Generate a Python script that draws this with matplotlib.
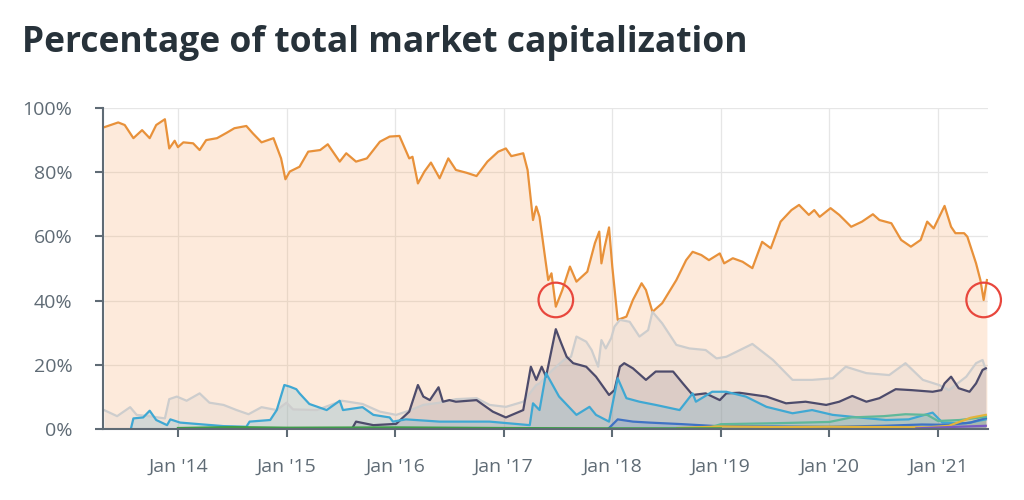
import matplotlib
matplotlib.use("Agg")
import matplotlib.pyplot as plt
import numpy as np

plt.rcParams['font.family'] = ['Open Sans', 'DejaVu Sans']

# x values are decimal years, y values are % of total market cap
btc_x = [2013.32, 2013.45, 2013.51, 2013.59, 2013.67, 2013.74, 2013.80, 2013.88, 2013.92, 2013.97,
         2014.00, 2014.05, 2014.14, 2014.20, 2014.26, 2014.36, 2014.45, 2014.52, 2014.63, 2014.69,
         2014.77, 2014.88, 2014.95, 2014.99, 2015.03, 2015.12, 2015.20, 2015.31, 2015.38, 2015.49,
         2015.55, 2015.64, 2015.74, 2015.86, 2015.95, 2016.04, 2016.13, 2016.16, 2016.21, 2016.27,
         2016.33, 2016.41, 2016.49, 2016.56, 2016.66, 2016.75, 2016.85, 2016.95, 2017.02, 2017.07,
         2017.18, 2017.22, 2017.27, 2017.30, 2017.33, 2017.38, 2017.41, 2017.44, 2017.48, 2017.54,
         2017.61, 2017.67, 2017.77, 2017.84, 2017.88, 2017.90, 2017.93, 2017.97, 2018.00, 2018.05,
         2018.13, 2018.19, 2018.27, 2018.31, 2018.37, 2018.46, 2018.59, 2018.68, 2018.74, 2018.82,
         2018.89, 2018.99, 2019.03, 2019.11, 2019.20, 2019.29, 2019.38, 2019.46, 2019.55, 2019.65,
         2019.72, 2019.81, 2019.86, 2019.91, 2020.01, 2020.09, 2020.20, 2020.30, 2020.40, 2020.46,
         2020.57, 2020.66, 2020.75, 2020.84, 2020.90, 2020.96, 2021.06, 2021.12, 2021.16, 2021.24,
         2021.27, 2021.35, 2021.39, 2021.42, 2021.45]
btc_y = [94.0, 95.5, 94.7, 90.6, 93.1, 90.6, 94.7, 96.5, 87.4, 89.8,
         87.8, 89.3, 89.0, 86.9, 90.0, 90.6, 92.3, 93.7, 94.4, 92.1,
         89.3, 90.6, 84.3, 77.8, 80.2, 81.7, 86.4, 86.9, 88.7, 83.3,
         85.9, 83.3, 84.3, 89.5, 91.1, 91.3, 84.3, 84.8, 76.5, 80.2,
         83.0, 78.1, 84.3, 80.7, 79.8, 78.8, 83.3, 86.4, 87.4, 85.0,
         85.9, 80.7, 65.1, 69.3, 66.1, 53.7, 46.4, 48.5, 38.1, 43.3,
         50.6, 45.9, 49.0, 57.9, 61.5, 51.6, 56.8, 62.8, 50.6, 34.0,
         35.0, 40.2, 45.4, 43.3, 36.5, 39.2, 46.4, 52.6, 55.2, 54.2,
         52.6, 54.7, 51.6, 53.2, 52.1, 50.1, 58.3, 56.3, 64.6, 68.2,
         69.8, 66.7, 68.2, 66.1, 68.8, 66.7, 63.0, 64.6, 66.9, 65.1,
         64.1, 58.9, 56.8, 58.9, 64.6, 62.5, 69.5, 63.0, 61.0, 61.0,
         59.9, 51.6, 46.4, 40.2, 46.4]

others_x = [2013.32, 2013.44, 2013.56, 2013.62, 2013.73, 2013.88, 2013.92, 2013.99, 2014.08, 2014.20,
            2014.29, 2014.42, 2014.54, 2014.65, 2014.77, 2014.91, 2015.00, 2015.06, 2015.28, 2015.51,
            2015.70, 2015.86, 2016.01, 2016.13, 2016.26, 2016.41, 2016.56, 2016.75, 2016.87, 2017.02,
            2017.18, 2017.30, 2017.33, 2017.45, 2017.56, 2017.62, 2017.67, 2017.76, 2017.81, 2017.87,
            2017.90, 2017.94, 2017.99, 2018.02, 2018.07, 2018.16, 2018.25, 2018.33, 2018.37, 2018.46,
            2018.59, 2018.71, 2018.86, 2018.96, 2019.05, 2019.29, 2019.48, 2019.66, 2019.84, 2020.03,
            2020.15, 2020.34, 2020.55, 2020.70, 2020.86, 2021.01, 2021.10, 2021.26, 2021.35, 2021.41,
            2021.44]
others_y = [5.9, 4.0, 6.8, 4.4, 4.0, 3.3, 9.3, 10.1, 8.8, 11.1,
            8.2, 7.5, 5.9, 4.6, 6.8, 5.9, 8.2, 6.1, 5.9, 8.8,
            7.8, 5.4, 4.4, 5.7, 7.5, 8.2, 9.3, 9.6, 7.5, 6.9,
            8.5, 13.7, 14.2, 18.4, 21.7, 22.5, 28.8, 27.2, 24.6, 19.4,
            27.7, 25.1, 28.3, 31.9, 34.0, 33.4, 28.8, 30.8, 36.5, 32.9,
            26.2, 25.1, 24.6, 22.0, 22.5, 26.5, 21.5, 15.3, 15.3, 15.8,
            19.4, 17.4, 16.8, 20.5, 15.3, 13.7, 12.1, 16.3, 20.5, 21.5,
            18.4]

eth_x = [2015.61, 2015.64, 2015.80, 2016.01, 2016.13, 2016.21, 2016.26, 2016.32, 2016.40, 2016.44,
         2016.50, 2016.56, 2016.75, 2016.90, 2017.02, 2017.18, 2017.25, 2017.30, 2017.35, 2017.39,
         2017.48, 2017.53, 2017.58, 2017.64, 2017.76, 2017.85, 2017.97, 2018.02, 2018.07, 2018.11,
         2018.19, 2018.31, 2018.40, 2018.56, 2018.65, 2018.74, 2018.86, 2018.99, 2019.05, 2019.17,
         2019.42, 2019.60, 2019.78, 2019.97, 2020.09, 2020.21, 2020.34, 2020.46, 2020.61, 2020.76,
         2020.95, 2021.03, 2021.06, 2021.12, 2021.19, 2021.29, 2021.35, 2021.41, 2021.44]
eth_y = [0.5, 2.3, 1.2, 1.6, 5.4, 13.7, 10.1, 9.0, 13.0, 8.5,
         9.0, 8.5, 9.0, 5.4, 3.6, 5.9, 19.4, 15.3, 19.4, 16.3,
         31.1, 26.7, 22.5, 20.5, 19.4, 16.3, 10.6, 12.1, 19.4, 20.5,
         18.9, 15.3, 17.9, 17.9, 14.2, 10.6, 11.1, 9.0, 11.1, 11.3,
         10.1, 8.0, 8.5, 7.5, 8.5, 10.3, 8.5, 9.6, 12.4, 12.1,
         11.6, 12.1, 14.2, 16.3, 12.7, 11.6, 14.2, 18.4, 18.9]

xrp_x = [2013.57, 2013.59, 2013.68, 2013.74, 2013.80, 2013.90, 2013.93, 2014.02, 2014.20, 2014.42,
         2014.63, 2014.66, 2014.85, 2014.91, 2014.98, 2015.03, 2015.09, 2015.12, 2015.21, 2015.37,
         2015.49, 2015.52, 2015.70, 2015.80, 2015.95, 2015.98, 2016.10, 2016.41, 2016.87, 2017.24,
         2017.27, 2017.33, 2017.39, 2017.51, 2017.67, 2017.79, 2017.85, 2017.97, 2018.05, 2018.13,
         2018.25, 2018.40, 2018.62, 2018.74, 2018.77, 2018.92, 2019.05, 2019.23, 2019.42, 2019.66,
         2019.84, 2020.03, 2020.27, 2020.52, 2020.73, 2020.95, 2021.04, 2021.26, 2021.44]
xrp_y = [0.5, 3.3, 3.6, 5.7, 2.8, 1.2, 3.0, 2.0, 1.5, 0.9,
         0.7, 2.3, 2.8, 5.9, 13.7, 13.2, 12.4, 11.1, 7.8, 5.9,
         8.8, 5.9, 6.8, 4.4, 3.6, 2.3, 3.0, 2.3, 2.3, 1.2,
         8.0, 5.9, 17.4, 10.1, 4.4, 6.9, 4.4, 2.3, 15.8, 9.6,
         8.5, 7.5, 5.9, 11.1, 8.5, 11.6, 11.6, 10.1, 6.9, 4.9,
         5.9, 4.4, 3.6, 2.8, 3.0, 5.1, 2.0, 1.8, 3.0]

blue_x = [2017.97, 2018.05, 2018.19, 2018.34, 2018.65, 2018.96, 2019.50, 2020.00, 2020.50, 2020.85,
          2021.10, 2021.30, 2021.44]
blue_y = [0.3, 3.0, 2.3, 2.0, 1.5, 0.9, 0.8, 0.7, 1.0, 1.4, 1.3, 2.0, 3.4]

teal_x = [2018.90, 2019.00, 2019.50, 2020.00, 2020.20, 2020.50, 2020.70, 2020.90, 2021.00, 2021.20, 2021.44]
teal_y = [0.5, 1.5, 1.8, 2.2, 3.6, 4.0, 4.6, 4.4, 2.5, 2.8, 3.8]

yellow_x = [2018.60, 2019.00, 2019.50, 2020.00, 2020.50, 2020.90, 2021.10, 2021.30, 2021.44]
yellow_y = [0.3, 0.8, 0.6, 0.7, 0.6, 0.5, 1.0, 3.5, 4.4]

purple_x = [2020.80, 2021.10, 2021.44]
purple_y = [0.2, 0.6, 1.0]

green_x = [2014.00, 2014.50, 2015.00, 2016.00, 2017.00, 2018.00, 2019.00]
green_y = [0.3, 0.6, 0.4, 0.5, 0.3, 0.2, 0.2]

# circled lows
circle_x = [2017.48, 2021.42]
circle_y = [40.2, 40.2]

tick_years = [2014, 2015, 2016, 2017, 2018, 2019, 2020, 2021]
tick_labels = ["Jan '14", "Jan '15", "Jan '16", "Jan '17", "Jan '18", "Jan '19", "Jan '20", "Jan '21"]

fig = plt.figure(figsize=(10.24, 5.0), dpi=100)
ax = fig.add_axes([103 / 1024, 1 - 429 / 500, (988 - 103) / 1024, (429 - 108) / 500])

series = [
    (btc_x, btc_y, '#e8913a', '#f7a35c', 0.22),
    (others_x, others_y, '#cdcdcd', '#c8c8c8', 0.18),
    (eth_x, eth_y, '#4d4b6b', '#5a4a68', 0.15),
    (xrp_x, xrp_y, '#3fa8d3', '#3fa8d3', 0.18),
    (blue_x, blue_y, '#3f72c4', '#3f72c4', 0.15),
    (teal_x, teal_y, '#5fb89a', '#5fb89a', 0.15),
    (yellow_x, yellow_y, '#e2b43b', '#e2b43b', 0.15),
    (purple_x, purple_y, '#7a5cc2', '#7a5cc2', 0.15),
    (green_x, green_y, '#3f9f4a', '#3f9f4a', 0.15),
]

for xs, ys, lc, fc, a in series:
    ax.fill_between(xs, ys, 0, color=fc, alpha=a, linewidth=0, zorder=2)
for xs, ys, lc, fc, a in series:
    ax.plot(xs, ys, color=lc, lw=1.6, zorder=3, solid_joinstyle='round')

ax.scatter(circle_x, circle_y, s=620, facecolors='none', edgecolors='#e8473d',
           linewidths=1.6, zorder=5, clip_on=False)

ax.set_xlim(2013.31, 2021.46)
ax.set_ylim(0, 100)
ax.set_yticks([0, 20, 40, 60, 80, 100])
ax.set_yticklabels(['0%', '20%', '40%', '60%', '80%', '100%'])
ax.set_xticks(tick_years)
ax.set_xticklabels(tick_labels)

ax.grid(True, color='#e6e6e6', lw=0.9, zorder=0)
ax.set_axisbelow(True)
for s in ['top', 'right']:
    ax.spines[s].set_visible(False)
for s in ['left', 'bottom']:
    ax.spines[s].set_color('#5f6b75')
    ax.spines[s].set_linewidth(1.5)
    ax.spines[s].set_zorder(6)
ax.tick_params(axis='both', colors='#5f6b75', length=6, width=1.5, labelsize=14,
               labelcolor='#5f6b75')
ax.tick_params(axis='y', pad=16)
ax.tick_params(axis='x', pad=15)

fig.text(22 / 1024, 1 - 52 / 500, 'Percentage of total market capitalization',
         fontsize=25.5, fontweight='bold', color='#27323a', va='baseline', ha='left')

plt.savefig('out.png', dpi=100)
